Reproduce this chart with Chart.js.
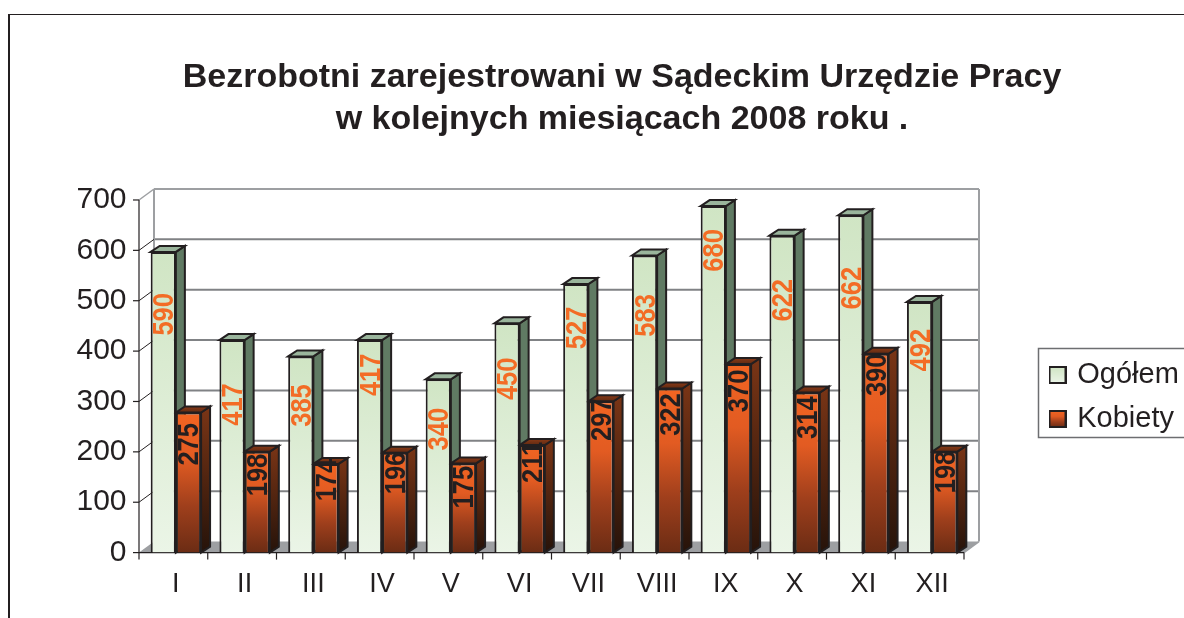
<!DOCTYPE html>
<html><head><meta charset="utf-8">
<style>html,body{margin:0;padding:0;background:#fff;overflow:hidden}
#wrap{position:absolute;left:0;top:0;width:1184px;height:618px}
#frame{position:absolute;left:8px;top:14px;width:1176px;height:604px;border-left:2px solid #231f20;border-top:1.5px solid #231f20;box-sizing:border-box}
canvas{position:absolute;left:0;top:0}</style>
<script src="https://cdn.jsdelivr.net/npm/chart.js@4"></script></head>
<body><div id="wrap"><div id="frame"></div><canvas id="c" width="1184" height="618"></canvas></div>
<script>
const categories=['I','II','III','IV','V','VI','VII','VIII','IX','X','XI','XII'];
const ogolem=[590,417,385,417,340,450,527,583,680,622,662,492];
const kobiety=[275,198,174,196,175,211,297,322,370,314,390,198];
const yTicks=[0,100,200,300,400,500,600,700];
const titleLines=['Bezrobotni zarejestrowani w Sądeckim Urzędzie Pracy','w kolejnych miesiącach 2008 roku .'];
// where along the bar (in axis units) each rotated value label is centred
const ogolemLabelAt=[473,294,292,353,245,345,446,471,600,501,525,402];
const kobietyLabelAt=[215,154,144,158,130,179,264,274,321,268,353,160];

const DX=15,DY=11,BDX=9,BDY=6,SHIFT=2.5;
const ink='#231f20',wall='#9d9fa2';
function vGrad(ctx,y0,y1,stops){const g=ctx.createLinearGradient(0,y0,0,y1);stops.forEach((c,i)=>g.addColorStop(i/(stops.length-1),c));return g;}
const frontStops=[['#d0e5c4','#ebf5e7'],['#f26522','#e25b22','#9f3f1c','#6b2c14']];
function swatch(d){const s=document.createElement('canvas');s.width=s.height=18;const c=s.getContext('2d');c.fillStyle=vGrad(c,1,17,frontStops[d]);c.fillRect(1,1,16,16);c.strokeStyle=ink;c.lineWidth=2;c.strokeRect(1,1,16,16);return s;}
function line(ctx,x0,y0,x1,y1,c,w){ctx.strokeStyle=c;ctx.lineWidth=w;ctx.beginPath();ctx.moveTo(x0,y0);ctx.lineTo(x1,y1);ctx.stroke();}
function poly(ctx,pts,fill,stroke,w){ctx.beginPath();pts.forEach((p,i)=>i?ctx.lineTo(p[0],p[1]):ctx.moveTo(p[0],p[1]));ctx.closePath();ctx.fillStyle=fill;ctx.fill();if(stroke){ctx.strokeStyle=stroke;ctx.lineWidth=w;ctx.lineJoin='miter';ctx.stroke();}}

const scene={id:'scene',
 afterLayout(chart){const l=chart.legend;l.left=1037.25;l.top=345.5;l.right=1190;l.bottom=480;l.width=153;l.height=134.5;
  chart.titleBlock.left=60;chart.titleBlock.right=1184;},
 beforeDatasetsDraw(chart){const {ctx,scales:{x,y},chartArea:a}=chart;
  const L=a.left-SHIFT,R=a.right-SHIFT,B=y.getPixelForValue(0),T=y.getPixelForValue(700);
  ctx.save();
  ctx.strokeStyle='#6d6e71';ctx.lineWidth=1.5;ctx.strokeRect(1038.5,348.5,152,89);
  poly(ctx,[[L,B],[L+DX,B-DY],[R+DX,B-DY],[R,B]],wall);
  yTicks.forEach(v=>{if(!v)return;const p=y.getPixelForValue(v);line(ctx,L+DX,p-DY,R+DX,p-DY,v===700?wall:'#808285',2);});
  line(ctx,L+DX,T-DY,L+DX,B-DY,wall,2);line(ctx,R+DX,T-DY,R+DX,B-DY,wall,2);
  line(ctx,L,T,L+DX,T-DY,wall,1.5);line(ctx,R,B,R+DX,B-DY,wall,1.5);
  yTicks.forEach(v=>{const p=y.getPixelForValue(v);line(ctx,L-6,p,L,p,ink,1.2);if(v&&v<700)line(ctx,L,p,L+DX,p-DY,ink,1);});
  line(ctx,L,T,L,B,ink,1.2);line(ctx,L,B,R,B,ink,1.2);
  for(let i=0;i<=categories.length;i++){const px=L+(R-L)*i/categories.length;line(ctx,px,B,px,B+7,ink,1.2);}
  [0,1].forEach(d=>{chart.getDatasetMeta(d).data.forEach(b=>{const l=b.x-b.width/2,r=b.x+b.width/2,t=b.y,bt=b.base;
   const top=d?vGrad(ctx,t-BDY,t,['#8a3a17','#5f2a12']):'#9ab59c';
   const side=d?vGrad(ctx,t-BDY,bt,['#7a3516','#26130a']):'#607a63';
   poly(ctx,[[r,t],[r+BDX,t-BDY],[r+BDX,bt-BDY],[r,bt]],side,ink,2);
   poly(ctx,[[l,t],[l+BDX,t-BDY],[r+BDX,t-BDY],[r,t]],top,ink,2);
  });});
  ctx.restore();},
 afterDatasetsDraw(chart){const {ctx,scales:{y}}=chart;
  ctx.save();ctx.textAlign='center';ctx.textBaseline='middle';ctx.font='bold 29px "Liberation Sans",Arial,sans-serif';
  [[ogolem,ogolemLabelAt,'#f36c25'],[kobiety,kobietyLabelAt,ink]].forEach((s,d)=>{
   chart.getDatasetMeta(d).data.forEach((b,i)=>{ctx.save();ctx.translate(b.x+2,y.getPixelForValue(s[1][i]));ctx.rotate(-Math.PI/2);ctx.scale(.88,1);ctx.fillStyle=s[2];ctx.fillText(String(s[0][i]),0,0);ctx.restore();});});
  ctx.restore();}
};
const fill=d=>c=>{const ch=c.chart,y=ch.scales.yBars;if(!y||c.raw===undefined)return frontStops[d][0];return vGrad(ch.ctx,y.getPixelForValue(c.raw),y.getPixelForValue(0),frontStops[d]);};
new Chart(document.getElementById('c'),{type:'bar',
 data:{labels:categories,datasets:[
  {label:'Ogółem',data:ogolem,yAxisID:'yBars',backgroundColor:fill(0),borderColor:ink,borderWidth:2,categoryPercentage:.733,barPercentage:1},
  {label:'Kobiety',data:kobiety,yAxisID:'yBars',backgroundColor:fill(1),borderColor:ink,borderWidth:2,categoryPercentage:.733,barPercentage:1}]},
 options:{responsive:false,animation:false,
  layout:{padding:{left:0,right:217.5,top:0,bottom:9}},
  scales:{
   x:{grid:{display:false},border:{display:false},ticks:{color:ink,font:{size:27,family:'"Liberation Sans",Arial,sans-serif'},padding:8,maxRotation:0,autoSkip:false}},
   y:{min:0,max:700,afterBuildTicks(s){s.ticks=yTicks.map(v=>({value:v}));},afterFit(s){s.width=141.5;},grid:{display:false},border:{display:false},ticks:{color:ink,font:{size:30,family:'"Liberation Sans",Arial,sans-serif'},padding:7}},
   yBars:{display:false,min:0,max:692}},
  plugins:{tooltip:{enabled:false},
   title:{display:true,text:titleLines,color:ink,font:{size:34,weight:'bold',family:'"Liberation Sans",Arial,sans-serif',lineHeight:1.235},padding:{top:57,bottom:59}},
   legend:{position:'chartArea',align:'start',labels:{color:ink,font:{size:29,family:'"Liberation Sans",Arial,sans-serif'},usePointStyle:true,pointStyleWidth:10.5,boxHeight:17,padding:15,
    generateLabels(chart){return [0,1].map(d=>({text:chart.data.datasets[d].label,datasetIndex:d,fontColor:ink,pointStyle:swatch(d),strokeStyle:ink,lineWidth:0,fillStyle:frontStops[d][0]}));}}}}},
 plugins:[scene]});
</script></body></html>
